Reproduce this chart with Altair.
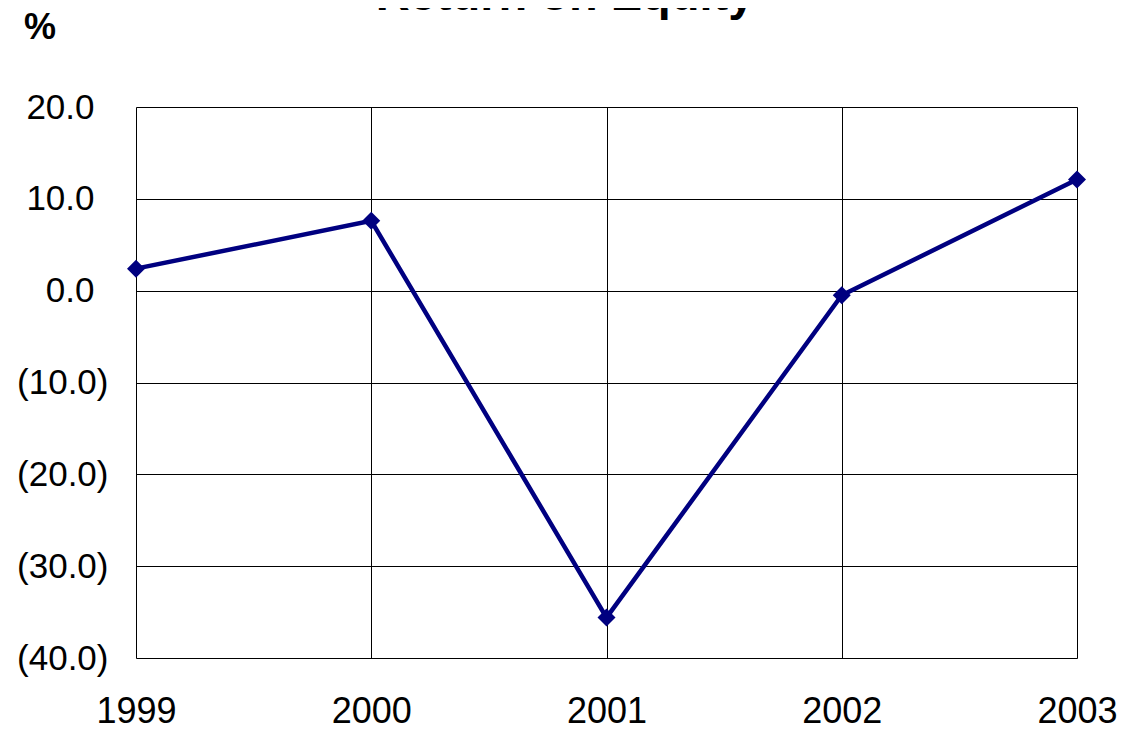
import altair as alt
import pandas as pd

years = [1999, 2000, 2001, 2002, 2003]
roe = [2.4, 7.6, -35.6, -0.5, 12.1]
y_ticks = [-40, -30, -20, -10, 0, 10, 20]
title_text = "Return on Equity"
unit_text = "%"

df = pd.DataFrame({"year": years, "roe": roe})

FONT = "Liberation Sans"
NAVY = "#000080"

x_enc = alt.X(
    "year:Q",
    scale=alt.Scale(domain=[years[0], years[-1]], nice=False, zero=False),
    axis=alt.Axis(
        values=years, format="d", title=None, domain=False, ticks=False,
        grid=True, gridColor="black", gridWidth=1, gridOpacity=1,
        labelFont=FONT, labelFontSize=36, labelColor="black",
        labelPadding=36, labelFlush=False, labelOverlap=False,
    ),
)
y_enc = alt.Y(
    "roe:Q",
    scale=alt.Scale(domain=[y_ticks[0], y_ticks[-1]], nice=False),
    axis=alt.Axis(
        values=y_ticks, title=None, domain=False, ticks=False,
        grid=True, gridColor="black", gridWidth=1, gridOpacity=1,
        labelFont=FONT, labelFontSize=35, labelColor="black",
        labelExpr="datum.value < 0 ? '(' + format(-datum.value, '.1f') + ')' : format(datum.value, '.1f')",
        labelPadding={"condition": {"test": "datum.value >= 0", "value": 42}, "value": 28},
        labelFlush=False, labelOverlap=False,
    ),
)

line = alt.Chart(df).mark_line(color=NAVY, strokeWidth=4.5).encode(x=x_enc, y=y_enc)
pts = alt.Chart(df).mark_point(
    shape="diamond", filled=True, color=NAVY, size=324, opacity=1
).encode(x="year:Q", y="roe:Q")

title = alt.Chart(pd.DataFrame({"t": [title_text]})).mark_text(
    font=FONT, fontSize=47, fontWeight="bold", color="black",
    align="center", baseline="alphabetic",
).encode(x=alt.value(429), y=alt.value(-97), text="t:N")

unit = alt.Chart(pd.DataFrame({"t": [unit_text]})).mark_text(
    font=FONT, fontSize=36, fontWeight="bold", color="black",
    align="center", baseline="alphabetic",
).encode(x=alt.value(-96), y=alt.value(-68), text="t:N")

chart = alt.layer(line, pts, title, unit).properties(
    width=941, height=551,
    autosize=alt.AutoSizeParams(type="none"),
    padding={"left": 128, "top": 99, "right": 40, "bottom": 69},
).configure_view(stroke="black", strokeWidth=2).configure(background="white")

chart.save("out.html", embed_options={"renderer": "svg", "actions": False})
